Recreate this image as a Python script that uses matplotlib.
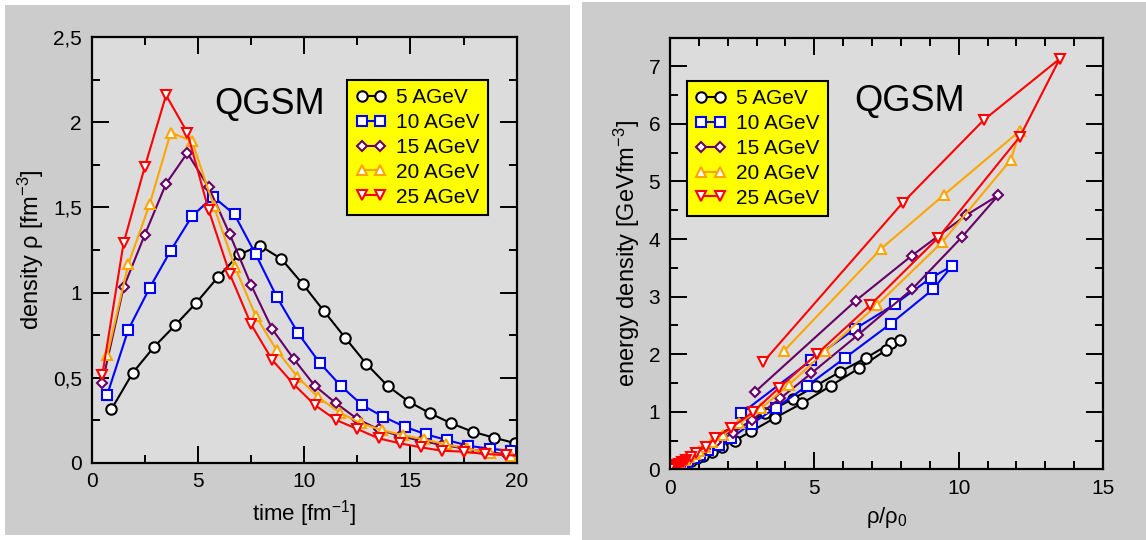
import numpy as np
import matplotlib.pyplot as plt
from matplotlib.patches import Rectangle
from matplotlib.ticker import MultipleLocator, FuncFormatter

plt.rcParams['font.family'] = ['Liberation Sans', 'DejaVu Sans']
plt.rcParams['mathtext.fontset'] = 'custom'
plt.rcParams['mathtext.rm'] = 'Liberation Sans'

RHO0 = 0.16

# left panel: baryon density vs time, one array per beam energy
# (points after t=20 fall outside the left frame but show up near 0 on the right)
t5 = [0.93, 1.93, 2.93, 3.93, 4.93, 5.93, 6.93, 7.93, 8.93, 9.93,
      10.93, 11.93, 12.93, 13.93, 14.93, 15.93, 16.93, 17.93, 18.93, 19.93]
rho5 = [0.314, 0.528, 0.68, 0.808, 0.941, 1.089, 1.224, 1.275, 1.197, 1.05,
        0.891, 0.734, 0.58, 0.451, 0.358, 0.29, 0.231, 0.182, 0.147, 0.115]

t10 = [0.72, 1.72, 2.72, 3.72, 4.72, 5.72, 6.72, 7.72, 8.72, 9.72,
       10.72, 11.72, 12.72, 13.72, 14.72, 15.72, 16.72, 17.72, 18.72, 19.72,
       20.72, 21.72, 22.72, 23.72, 24.72]
rho10 = [0.395, 0.781, 1.026, 1.247, 1.449, 1.563, 1.459, 1.224, 0.972, 0.76,
         0.588, 0.452, 0.339, 0.27, 0.212, 0.167, 0.133, 0.1, 0.082, 0.07,
         0.058, 0.045, 0.03, 0.015, 0.004]

t15 = [0.5, 1.5, 2.5, 3.5, 4.5, 5.5, 6.5, 7.5, 8.5, 9.5,
       10.5, 11.5, 12.5, 13.5, 14.5, 15.5, 16.5, 17.5, 18.5, 19.5,
       20.5, 21.5, 22.5, 23.5, 24.5]
rho15 = [0.47, 1.03, 1.34, 1.64, 1.82, 1.62, 1.342, 1.044, 0.784, 0.611,
         0.452, 0.349, 0.257, 0.196, 0.157, 0.129, 0.104, 0.085, 0.065, 0.05,
         0.04, 0.03, 0.02, 0.01, 0.003]

t20 = [0.73, 1.73, 2.73, 3.72, 4.72, 5.74, 6.74, 7.73, 8.71, 9.68,
       10.66, 11.68, 12.67, 13.66, 14.66, 15.64, 16.66, 17.65, 18.72, 19.72,
       20.72, 21.72, 22.72, 23.72, 24.72]
rho20 = [0.63, 1.17, 1.52, 1.94, 1.89, 1.51, 1.15, 0.86, 0.66, 0.505,
         0.384, 0.294, 0.231, 0.192, 0.161, 0.137, 0.108, 0.085, 0.055, 0.04,
         0.03, 0.022, 0.014, 0.007, 0.002]

t25 = [0.5, 1.5, 2.5, 3.5, 4.5, 5.5, 6.5, 7.5, 8.5, 9.5,
       10.5, 11.5, 12.5, 13.5, 14.5, 15.5, 16.5, 17.5, 18.5, 19.5,
       20.5, 21.5, 22.5, 23.5, 24.5, 25.5, 26.5]
rho25 = [0.516, 1.29, 1.74, 2.16, 1.94, 1.486, 1.109, 0.813, 0.603, 0.462,
         0.339, 0.251, 0.198, 0.143, 0.114, 0.09, 0.07, 0.065, 0.051, 0.045,
         0.038, 0.03, 0.022, 0.015, 0.009, 0.004, 0.001]

# right panel: energy density at the same time steps
eps5 = [0.6, 0.97, 1.22, 1.45, 1.69, 1.94, 2.19, 2.24, 2.07, 1.76,
        1.45, 1.15, 0.89, 0.66, 0.5, 0.39, 0.3, 0.23, 0.19, 0.15]
eps10 = [0.97, 1.89, 2.44, 2.87, 3.33, 3.53, 3.13, 2.53, 1.94, 1.45,
         1.07, 0.79, 0.55, 0.42, 0.33, 0.25, 0.2, 0.15, 0.12, 0.1,
         0.08, 0.06, 0.04, 0.02, 0.005]
eps15 = [1.34, 2.93, 3.71, 4.41, 4.76, 4.04, 3.13, 2.34, 1.67, 1.23,
         0.85, 0.63, 0.47, 0.36, 0.29, 0.24, 0.19, 0.15, 0.12, 0.09,
         0.07, 0.05, 0.035, 0.017, 0.005]
eps20 = [2.05, 3.83, 4.77, 5.88, 5.38, 3.95, 2.86, 2.05, 1.47, 1.06,
         0.8, 0.6, 0.47, 0.38, 0.32, 0.27, 0.21, 0.17, 0.1, 0.07,
         0.055, 0.04, 0.026, 0.013, 0.004]
eps25 = [1.86, 4.63, 6.07, 7.13, 5.78, 4.02, 2.85, 2.0, 1.41, 1.0,
         0.72, 0.55, 0.39, 0.29, 0.22, 0.17, 0.13, 0.12, 0.09, 0.08,
         0.07, 0.055, 0.042, 0.03, 0.018, 0.008, 0.002]

labels = ['5 AGeV', '10 AGeV', '15 AGeV', '20 AGeV', '25 AGeV']
colors = ['black', '#0000ff', '#660066', '#ffa500', '#ff0000']
markers = ['o', 's', 'D', '^', 'v']
msizes = [7.5, 6.5, 5.5, 7.5, 7.5]

times = [t5, t10, t15, t20, t25]
rhos = [rho5, rho10, rho15, rho20, rho25]
epss = [eps5, eps10, eps15, eps20, eps25]

W, H = 1146, 540
fig = plt.figure(figsize=(W / 100, H / 100), dpi=100)
fig.patch.set_facecolor('white')
fig.patches.append(Rectangle((5 / W, 1 - 535 / H), 565 / W, 530 / H,
                             transform=fig.transFigure, facecolor='#cccccc',
                             edgecolor='none', zorder=-10))
fig.patches.append(Rectangle((582 / W, 0), (W - 582) / W, 1 - 2 / H,
                             transform=fig.transFigure, facecolor='#cccccc',
                             edgecolor='none', zorder=-10))

ax1 = fig.add_axes([91.7 / W, 1 - 462.7 / H, 425 / W, 425.4 / H])
ax2 = fig.add_axes([670 / W, 1 - 469.3 / H, 433 / W, 431.8 / H])


def comma(v, pos):
    return ('%g' % v).replace('.', ',')


for ax in (ax1, ax2):
    ax.set_facecolor('#dcdcdc')
    for s in ax.spines.values():
        s.set_linewidth(1.6)
    ax.tick_params(which='both', direction='in', top=True, right=True,
                   width=1.4, labelsize=15)
    ax.tick_params(which='major', length=12, pad=7)
    ax.tick_params(which='minor', length=6)

for i in range(5):
    ax1.plot(times[i], rhos[i], color=colors[i], lw=1.5, marker=markers[i],
             ms=msizes[i], mfc='white', mec=colors[i], mew=1.5, label=labels[i])
    x = np.array(rhos[i]) / RHO0
    ax2.plot(x, epss[i], color=colors[i], lw=1.5, marker=markers[i],
             ms=msizes[i], mfc='white', mec=colors[i], mew=1.5, label=labels[i])

ax1.set_xlim(0, 20)
ax1.set_ylim(0, 2.5)
ax1.xaxis.set_major_locator(MultipleLocator(5))
ax1.xaxis.set_minor_locator(MultipleLocator(2.5))
ax1.yaxis.set_major_locator(MultipleLocator(0.5))
ax1.yaxis.set_minor_locator(MultipleLocator(0.25))
ax1.yaxis.set_major_formatter(FuncFormatter(comma))
ax1.set_xlabel('time [fm$\\mathregular{^{-1}}$]', fontsize=16, labelpad=5)
ax1.set_ylabel('density ρ [fm$\\mathregular{^{-3}}$]', fontsize=17, labelpad=5)
ax1.text(0.288, 0.82, 'QGSM', transform=ax1.transAxes, fontsize=26)

ax2.set_xlim(0, 15)
ax2.set_ylim(0, 7.5)
ax2.xaxis.set_major_locator(MultipleLocator(5))
ax2.xaxis.set_minor_locator(MultipleLocator(1))
ax2.yaxis.set_major_locator(MultipleLocator(1))
ax2.yaxis.set_minor_locator(MultipleLocator(0.5))
ax2.set_xlabel('ρ/ρ$\\mathregular{_0}$', fontsize=16, labelpad=5)
ax2.set_ylabel('energy density [GeVfm$\\mathregular{^{-3}}$]', fontsize=17, labelpad=5)
ax2.text(0.425, 0.83, 'QGSM', transform=ax2.transAxes, fontsize=26)

for ax, anchor in ((ax1, (0.601, 0.90)), (ax2, (0.039, 0.899))):
    leg = ax.legend(loc='upper left', bbox_to_anchor=anchor, borderaxespad=0,
                    fontsize=15, numpoints=2, handlelength=1.5,
                    handletextpad=0.45, borderpad=0.4, labelspacing=0.28,
                    fancybox=False, framealpha=1, edgecolor='black')
    leg.get_frame().set_facecolor('#ffff00')
    leg.get_frame().set_linewidth(1.5)

fig.savefig('out.png', dpi=100)
